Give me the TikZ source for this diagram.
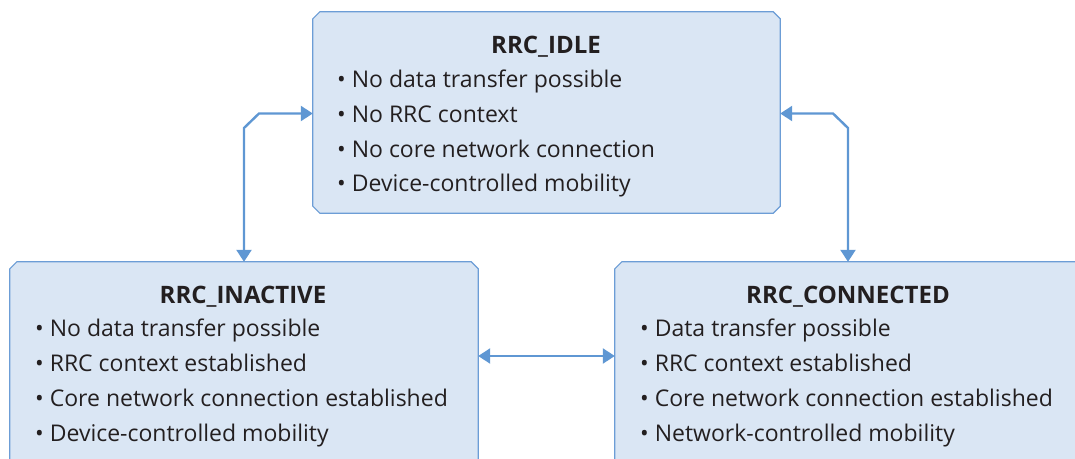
\documentclass[tikz,border=0pt]{standalone}
\usepackage{fontspec}
\setmainfont{Open Sans}
\usetikzlibrary{arrows.meta}
\definecolor{boxfill}{HTML}{DAE6F4}
\definecolor{boxline}{HTML}{6C9DD6}
\definecolor{arrowc}{HTML}{5F97D3}
\definecolor{ink}{HTML}{231F20}
\newcommand{\chamferbox}[1]{%
  \draw[boxline, line width=1.2pt, fill=boxfill]
    ([xshift=7pt]#1.north west) -- ([xshift=-7pt]#1.north east) -- ([yshift=-7pt]#1.north east)
    -- ([yshift=7pt]#1.south east) -- ([xshift=-7pt]#1.south east) -- ([xshift=7pt]#1.south west)
    -- ([yshift=7pt]#1.south west) -- ([yshift=-7pt]#1.north west) -- cycle;}
\tikzset{
  statebox/.style={rectangle, inner sep=0pt},
  title/.style={font=\fontsize{24}{24}\selectfont\bfseries, text=ink, anchor=base},
  item/.style={font=\fontsize{23}{23}\selectfont, text=ink, anchor=base west, inner sep=0pt},
  link/.style={draw=arrowc, line width=2.4pt, {Triangle[length=12pt,width=15pt]}-{Triangle[length=12pt,width=15pt]}},
}
\begin{document}
\begin{tikzpicture}[x=1pt,y=-1pt]
\useasboundingbox (0,0) rectangle (1075,458);
\clip (0,0) rectangle (1075,458);
% state boxes
\node[statebox, minimum width=467pt, minimum height=201pt] (idle) at (546.5,112.5) {};
\node[statebox, minimum width=468pt, minimum height=220pt] (inactive) at (244,372) {};
\node[statebox, minimum width=470pt, minimum height=220pt] (connected) at (850,372) {};
\chamferbox{idle}
\chamferbox{inactive}
\chamferbox{connected}
% titles
\node[title] (tidle) at (546,53) {RRC\_IDLE};
\node[title] (tinactive) at (243,303) {RRC\_INACTIVE};
\node[title] (tconnected) at (848,303) {RRC\_CONNECTED};
% bullet lists
\foreach \t [count=\i] in {No data transfer possible, No RRC context, No core network connection, Device-controlled mobility}
  \node[item] (idle-\i) at (337,{53+34.7*\i}) {• \t};
\foreach \t [count=\i] in {No data transfer possible, RRC context established, Core network connection established, Device-controlled mobility}
  \node[item] (inactive-\i) at (35,{302+34.8*\i}) {• \t};
\foreach \t [count=\i] in {Data transfer possible, RRC context established, Core network connection established, Network-controlled mobility}
  \node[item] (connected-\i) at (640,{302+34.8*\i}) {• \t};
% transitions
\coordinate (l1) at (244,128);
\coordinate (l2) at (259,113.5);
\coordinate (r1) at (833,113.5);
\coordinate (r2) at (848,128);
\draw[link] (inactive.north -| l1) -- (l1) -- (l2) -- (l2 -| idle.west);
\draw[link] (idle.east |- r1) -- (r1) -- (r2) -- (r2 |- connected.north);
\draw[link] (inactive.east |- 0,356) -- (connected.west |- 0,356);
\end{tikzpicture}
\end{document}
